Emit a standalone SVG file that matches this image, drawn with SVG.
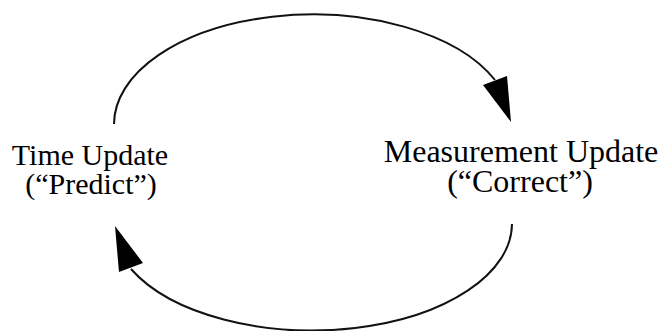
<svg xmlns="http://www.w3.org/2000/svg" width="662" height="331" viewBox="0 0 662 331">
<style>
.t{font-family:"Liberation Serif","Times New Roman",serif;font-size:30px;fill:#000;text-anchor:middle}
.r{font-size:32px}
.c{fill:none;stroke:#111;stroke-width:2}
.h{fill:#000}
</style>
<rect width="662" height="331" fill="#fff"/>
<g id="connectors">
<path class="c" d="M 114 124 A 199 110 0 0 1 495 80"/>
<polygon class="h" points="483,85 507,76 511,122"/>
<path class="c" d="M 512 224 A 200 107 0 0 1 131 269"/>
<polygon class="h" points="115,226 119,272 143,263"/>
</g>
<g id="time-update">
<text class="t" x="90" y="165">Time Update</text>
<text class="t" x="91" y="194">(“Predict”)</text>
</g>
<g id="measurement-update">
<text class="t r" x="521" y="162">Measurement Update</text>
<text class="t r" x="520" y="192">(“Correct”)</text>
</g>
</svg>
